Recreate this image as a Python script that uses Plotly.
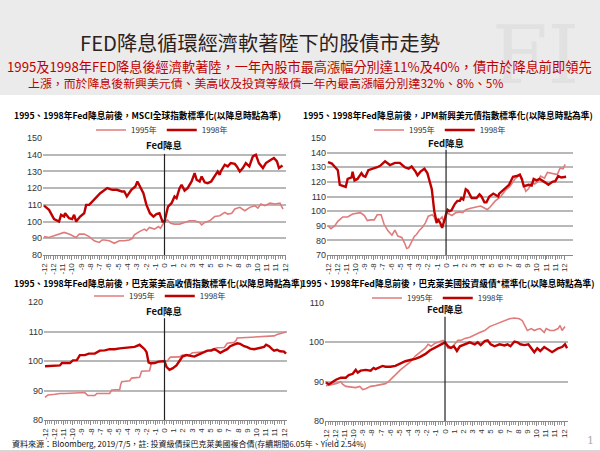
import numpy as np
import plotly.graph_objects as go

# ---------------- data ----------------
# Chart 1: MSCI World (normalised, rate-cut = 100)
msci_95_x = [-12,-11.5,-11,-10.5,-10,-9.5,-9,-8.8,-8.5,-8,-7.5,-7,-6.5,-6.2,-6,-5.5,-5,-4.5,-4,-3.5,-3.2,-3,-2.5,-2,-1.8,-1.5,-1,-0.6,-0.4,-0.2,0,0.3,0.6,1,1.5,2,2.5,3,3.5,3.7,4,4.5,5,5.5,6,6.3,6.7,7,7.5,8,8.5,9,9.3,9.6,10,10.5,11,11.5,11.8]
msci_95_y = [91,90.5,91.5,92.5,93.5,92.5,91,90.5,92.5,92.5,91,88.5,87.5,89,89,88.5,87,88.5,88.5,89,90,92,94,95.5,94.5,96.5,95.5,97,96,98,100,101,99,98.5,98.5,99.5,100.5,100.5,99.5,98,99.5,100.5,103,103.5,105.5,104.5,105,107.5,108.5,106.5,108.5,109.5,108,110.5,109.5,111,110.5,111,107.5]
msci_98_x = [-12,-11.5,-11,-10.5,-10.3,-10,-9.9,-9.5,-9.2,-9,-8.8,-8.4,-8,-7.8,-7.5,-7,-6.4,-5.7,-5.2,-4.75,-4.25,-4,-3.75,-3.3,-2.9,-2.7,-2.4,-2.1,-1.8,-1.45,-1.1,-0.8,-0.5,-0.2,0,0.35,0.7,1.0,1.2,1.5,1.7,2.0,2.3,2.7,3.0,3.2,3.5,3.7,4.0,4.3,4.65,5.1,5.3,5.5,5.6,6.0,6.3,6.6,7.0,7.2,7.5,7.8,8.1,8.45,8.8,9.1,9.4,9.8,10.1,10.6,10.9,11.2,11.4,11.75]
msci_98_y = [109.5,107,101.5,100,104,103,105,102,101.5,104,100,103,105,110,110,113,117,120,119,119,118,118,115,119,121,124,120,117,110,105,103,104.5,105,100,100,109,111,115,114,120,122,118.5,120,124,129,125,124,127,123.5,123,124,128,130,128,130,134,133,135,134.5,133,130,132,135,133,139,140,135,132,135,137,138,136,132,133.5]

# Chart 2: JPM EM USD bonds
jpm_95_x = [-12,-11.7,-11.3,-11,-10.5,-10,-9.5,-9,-8.7,-8.3,-8,-7.7,-7.3,-7,-6.6,-6.3,-5.9,-5.5,-5.2,-4.9,-4.5,-4.2,-4,-3.8,-3.5,-3.2,-3,-2.7,-2.4,-2.1,-1.8,-1.4,-1.2,-1,-0.7,-0.4,-0.2,0,0.3,0.6,1,1.4,1.7,2,2.5,3,3.5,3.8,4.2,4.5,5,5.5,6,6.5,7,7.5,7.8,8.1,8.4,8.7,9,9.3,9.6,10,10.3,10.7,11,11.3,11.6,11.9,12.1]
jpm_95_y = [90,88,90,93,96,96,98,98.5,99,97,93.5,94,94,97.5,97.5,91,86.5,83.5,87,83,82,78,74.5,75,79,83,84,87,89,92,96.5,97.5,96,92,94,96,92,100,98,97,99,99.5,99,101,102,103,103.5,102.5,101,103,107,109.5,114,117,122,125,119,113.5,115.5,119.5,118.5,120,124,122.5,126.5,126,125.5,125,129.5,129,132]
jpm_98_x = [-12,-11.6,-11.4,-11.0,-10.8,-10.4,-10.2,-10.0,-9.6,-9.5,-9.3,-9,-8.6,-8.4,-8.2,-7.9,-7.4,-7.0,-6.7,-6.2,-5.7,-5.2,-4.7,-4.2,-3.8,-3.5,-3.1,-2.9,-2.6,-2.2,-1.9,-1.6,-1.45,-1.2,-0.95,-0.8,-0.6,-0.4,-0.2,0,0.15,0.35,0.55,0.9,1.15,1.4,1.55,1.75,2.0,2.2,2.6,3.1,3.4,3.6,3.9,4.1,4.4,4.8,5.0,5.3,5.4,5.9,6.4,6.8,7.2,7.5,7.7,7.9,8.4,8.7,8.9,9.2,9.5,10.1,10.4,10.8,11.1,11.4,11.7,12.2]
jpm_98_y = [133.5,132.5,131,128,118,117,116.5,122,123,127,121,122,126,124,123.5,128,129,130,131,134,131.5,133,133,130,129,130.5,127,124.5,127,129,126,119,115,100,92,94,92,88.5,93,99,101,100,100.5,105,107,107,109,108,115,114,109,109,111.5,110,106,106,110,112,111,110,112,115,118,123.5,124,125,122,117,118,117.5,122,121,122,119.5,118,120,120.5,124,123,123.5]

# Chart 3: Barclays US High Yield
hy_95_x = [-12,-11.7,-11,-10.5,-10,-9,-8,-7.7,-7.5,-7,-6.8,-6.5,-5.5,-5.3,-5.2,-4.5,-4.4,-4.3,-3.5,-3.4,-3.3,-2.5,-2.4,-2.3,-1.5,-1.4,-1.3,-0.8,0,0.3,0.5,0.6,1.5,1.8,2.5,2.8,3.8,4.3,5,5.3,6,6.2,6.3,7,7.2,7.3,8.5,9,10,10.5,11,11.3,12,12.2]
hy_95_y = [87.7,88.5,88.7,89,89,89.2,89.3,88.3,88.3,88.3,89,89,89,90.2,90.2,90.3,92,93,93.3,94,94.2,94.5,96,96.5,96.7,98,99.5,99.6,100,100,101,101.3,101.4,102,102.1,102.8,103,103.5,104,104.5,104.6,105.5,106,106.3,107,107.8,108,108,108.1,108.3,108.5,109,109.5,109.8]
hy_98_x = [-12,-11.5,-11,-10.5,-10.3,-10,-9.5,-9.2,-8.8,-8.5,-8,-7.6,-7,-6.5,-6,-5.5,-5,-4.5,-4,-3.5,-3,-2.5,-2.3,-2,-1.8,-1.6,-1.4,-1,-0.6,-0.3,0,0.2,0.5,0.8,1.2,1.5,1.8,2.2,2.6,3,3.3,3.6,4,4.3,4.7,5.0,5.3,5.6,6,6.3,6.6,7.0,7.3,7.6,8,8.3,8.6,9,9.3,9.6,10,10.2,10.5,10.8,11,11.3,11.6,12,12.2]
hy_98_y = [98.2,98.3,98.5,98.5,99.3,99.3,99.3,100.2,100.3,102,102,102.5,102.5,103.5,103.6,104,104,104.3,104.5,104.7,104.8,105.5,105,104,103,99.5,99.2,99.3,99.8,100,100,98,97,97.5,98.5,100,101.5,102,101.8,101.5,102,102.5,103,103.5,103.5,104,103.5,102.8,103.5,104,105,105.5,106,105.8,105,104.7,104.2,104,104.2,104.3,104.8,105.5,105,104,103.5,103.8,103.3,103.2,102.5]

# Chart 4: Barclays US Aggregate (investment grade)
ig_95_x = [-12,-11.5,-11,-10.5,-10.3,-10,-9.5,-9,-8.6,-8.3,-8,-7.5,-7,-6.5,-6,-5.7,-5.3,-5,-4.5,-4,-3.5,-3,-2.5,-2,-1.7,-1.4,-1,-0.5,-0.2,0,0.3,0.6,1,1.3,1.6,2,2.5,3,3.5,4,4.5,5,5.5,6,6.5,7,7.5,7.8,8,8.3,8.7,9,9.3,9.6,10,10.2,10.6,11,11.4,11.6,11.8,12.1]
ig_95_y = [89,89.3,89.5,90,89.3,88.8,88.7,88.5,88.8,88,88.2,88.8,89,89.2,89.5,90,91,92,93,94,95,96.5,97.5,98.5,99.5,99,99.8,100.2,100.5,100,98.5,98.5,99.5,100.5,100.5,101,101.3,102,102.5,103,104,104.5,105,105.5,106,106.2,106,105.5,104.5,103,103.5,103,103.3,103.5,102.5,103.5,103,103,103.5,104.3,103,104]
ig_98_x = [-12,-11.7,-11.3,-11,-10.5,-10,-9.7,-9.3,-9,-8.8,-8.5,-8,-7.5,-7.2,-7,-6.5,-6.3,-6,-5.5,-5,-4.5,-4,-3.5,-3,-2.5,-2,-1.5,-1,-0.5,0,0.3,0.6,0.9,1.2,1.5,2,2.5,3,3.3,3.6,4,4.3,4.6,5,5.5,6,6.3,6.6,7,7.3,7.6,8,8.4,8.7,9,9.3,9.6,10,10.4,10.8,11.1,11.4,11.8,12.1,12.3]
ig_98_y = [89.8,89.3,90,90.5,91,91,91.7,92,93,92.3,92.8,93,92.8,93.5,93.2,93.7,94,93.8,93.8,94,94.6,95.2,95.5,95.8,96.3,97,98,98.7,99.2,100,99,98.6,99,97.8,99,99.5,100,99.5,100,99.3,100.3,100.5,99.5,99,99.5,99.2,99.5,99,100.2,100,99.5,99.3,99.5,98.5,97.5,98.5,97.8,98.8,98.2,97.5,98,98.5,98.8,99.5,98.5]

tick_text = ["-12","-12","-11","-10","-9","-8","-7","-6","-5","-4","-3","-2","-1","0",
             "1","2","3","4","5","6","7","8","9","10","11","11","12"]

titles = ["1995、1998年Fed降息前後，MSCI全球指數標準化(以降息時點為準)",
          "1995、1998年Fed降息前後，JPM新興美元債指數標準化(以降息時點為準)",
          "1995、1998年Fed降息前後，巴克萊美高收債指數標準化(以降息時點為準)",
          "1995、1998年Fed降息前後，巴克萊美國投資級債*標準化(以降息時點為準)"]

# ---------------- layout helpers ----------------
W, H = 600, 452
def px(x): return x / W
def py(y): return 1 - y / H

C98 = "#c00000"
C95 = "#e07b7b"
FONT = "Noto Sans CJK TC"

panels = [
    dict(xs=(43, 286), ys=(138, 255), xr=[-12.1, 12.1], yr=[80, 150], dt=10, vtop=140.5, lab=146,
         d95=(msci_95_x, msci_95_y), d98=(msci_98_x, msci_98_y), title_xy=(12, 115), leg_xy=(162, 130)),
    dict(xs=(327, 573), ys=(138, 255), xr=[-12.1, 12.9], yr=[70, 150], dt=10, vtop=142, lab=146.5,
         d95=(jpm_95_x, jpm_95_y), d98=(jpm_98_x, jpm_98_y), title_xy=(301, 115), leg_xy=(440, 130)),
    dict(xs=(44, 287), ys=(302, 420), xr=[-12.1, 12.3], yr=[80, 120], dt=10, vtop=114.5, lab=117,
         d95=(hy_95_x, hy_95_y), d98=(hy_98_x, hy_98_y), title_xy=(12, 283), leg_xy=(160, 296)),
    dict(xs=(325, 568), ys=(303, 421), xr=[-12.1, 12.4], yr=[80, 110], dt=10, vtop=106.5, lab=108.5,
         d95=(ig_95_x, ig_95_y), d98=(ig_98_x, ig_98_y), title_xy=(299, 283), leg_xy=(438, 298)),
]

fig = go.Figure()
tickvals = list(np.linspace(-12, 12, 27))
annotations = []
shapes = []

# header background
shapes.append(dict(type="rect", xref="paper", yref="paper", x0=0, x1=1, y0=py(95), y1=1,
                   fillcolor="#ebebeb", line=dict(width=0), layer="below"))
shapes.append(dict(type="line", xref="paper", yref="paper", x0=0, x1=1, y0=py(451), y1=py(451),
                   line=dict(color="#c8c8c8", width=1.5)))

for i, p in enumerate(panels, start=1):
    sfx = "" if i == 1 else str(i)
    xa, ya = "x" + sfx, "y" + sfx
    leg = "legend" if i == 1 else "legend" + str(i)
    fig.add_trace(go.Scatter(x=p["d95"][0], y=p["d95"][1], mode="lines", name="1995年",
                             line=dict(color=C95, width=1.6), xaxis=xa, yaxis=ya, legend=leg))
    fig.add_trace(go.Scatter(x=p["d98"][0], y=p["d98"][1], mode="lines", name="1998年",
                             line=dict(color=C98, width=2.4), xaxis=xa, yaxis=ya, legend=leg))
    xaxis = dict(domain=[px(p["xs"][0]), px(p["xs"][1])], range=p["xr"], anchor=ya,
                 tickmode="array", tickvals=tickvals, ticktext=tick_text, tickangle=-90,
                 tickfont=dict(size=8, color="#333", family="Liberation Sans"),
                 showgrid=False, zeroline=False, showline=True, linecolor="#888", linewidth=1,
                 ticks="outside", ticklen=4, tickcolor="#888", automargin=False,
                 minor=dict(ticks="outside", tickvals=list(np.arange(-12, 12.01, 0.2308)), ticklen=3, tickcolor="#999"),
                 fixedrange=True)
    yaxis = dict(domain=[py(p["ys"][1]), py(p["ys"][0])], range=p["yr"], anchor=xa, dtick=p["dt"],
                 tickfont=dict(size=9, color="#333", family="Liberation Sans"), automargin=False,
                 showgrid=True, gridcolor="#b8b8b8", gridwidth=1.5, zeroline=False, showline=False,
                 ticks="", fixedrange=True)
    fig.update_layout({("xaxis" + sfx): xaxis, ("yaxis" + sfx): yaxis})
    # Fed cut vertical line
    shapes.append(dict(type="line", xref=xa, yref=ya, x0=0, x1=0, y0=p["yr"][0], y1=p["vtop"],
                       line=dict(color="#222", width=1.2)))
    annotations.append(dict(x=0, y=p["lab"], xref=xa, yref=ya, text="<b>Fed降息</b>", showarrow=False,
                            xanchor="center", yanchor="middle",
                            font=dict(size=9.5, color="#111", family=FONT)))
    annotations.append(dict(x=px(p["title_xy"][0]), y=py(p["title_xy"][1]), xref="paper", yref="paper",
                            xanchor="left", yanchor="middle", text="<b>" + titles[i - 1] + "</b>",
                            showarrow=False, font=dict(size=8.7, color="#000", family=FONT)))
    fig.update_layout({leg: dict(x=px(p["leg_xy"][0]), y=py(p["leg_xy"][1]), xanchor="center", yanchor="middle",
                                 orientation="h", bgcolor="rgba(0,0,0,0)", font=dict(size=8, color="#333", family=FONT),
                                 itemwidth=30, tracegroupgap=0)})

def ann(x, y, text, size, color, family=FONT, xanchor="center"):
    annotations.append(dict(x=px(x), y=py(y), xref="paper", yref="paper", text=text, showarrow=False,
                            xanchor=xanchor, yanchor="middle", borderpad=0,
                            font=dict(size=size, color=color, family=family)))

# watermark (drawn first so it sits behind)
annotations.insert(0, dict(x=px(535), y=py(55), xref="paper", yref="paper", text="FI", showarrow=False,
                           xanchor="center", yanchor="middle",
                           font=dict(size=80, color="rgba(185,185,185,0.18)", family="DejaVu Serif")))
# header texts
ann(260, 42.5, "FED降息循環經濟軟著陸下的股債市走勢", 20.2, "#2e211b")
ann(299, 66, "1995及1998年FED降息後經濟軟著陸，一年內股市最高漲幅分別達11%及40%，債市於降息前即領先", 13.2, "#c00000")
ann(27, 82.5, "上漲，而於降息後新興美元債、美高收及投資等級債一年內最高漲幅分別達32%、8%、5%", 11.9, "#c00000",
    xanchor="left")
# footer
ann(11, 443, "資料來源：Bloomberg, 2019/7/5，註: 投資級債採巴克萊美國複合債(存續期間6.05年、Yield 2.54%)",
    8, "#111", xanchor="left")
ann(590, 440, "1", 11, "#aaa", family="DejaVu Serif")

fig.update_layout(width=W, height=H, margin=dict(l=0, r=0, t=0, b=0, autoexpand=False), paper_bgcolor="white",
                  plot_bgcolor="white", shapes=shapes, annotations=annotations, showlegend=True,
                  font=dict(family=FONT))
fig.write_html("out.html", config={"displayModeBar": False})

# remove default page margin so the figure sits at the window's top-left corner
with open("out.html", encoding="utf-8") as f:
    html = f.read()
html = html.replace("<head>", "<head><style>html,body{margin:0;padding:0;overflow:hidden;}</style>", 1)
with open("out.html", "w", encoding="utf-8") as f:
    f.write(html)
